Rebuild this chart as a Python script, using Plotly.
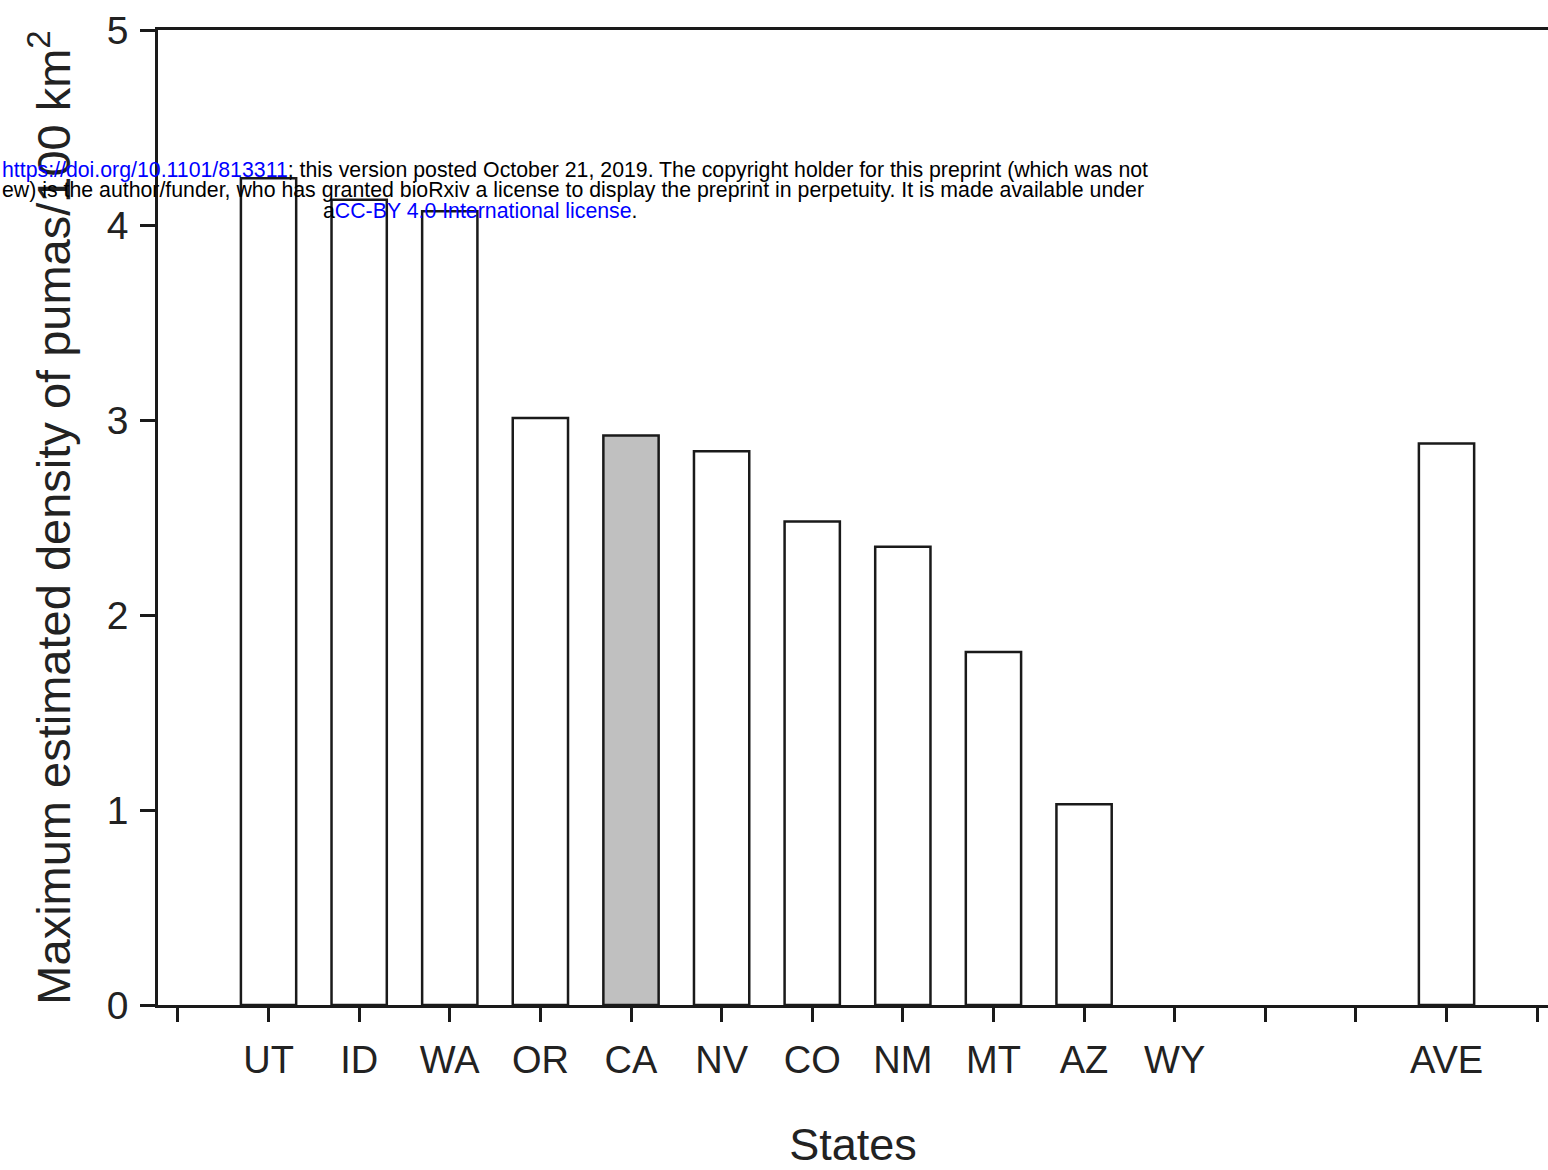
import plotly.graph_objects as go

# ---- data ----
tick_labels = ["", "UT", "ID", "WA", "OR", "CA", "NV", "CO", "NM", "MT", "AZ", "WY", "", "", "AVE", ""]
states = ["UT", "ID", "WA", "OR", "CA", "NV", "CO", "NM", "MT", "AZ", "WY", "AVE"]
density = [4.24, 4.13, 4.07, 3.01, 2.92, 2.84, 2.48, 2.35, 1.81, 1.03, None, 2.88]
highlight = "CA"

y_ticks = [0, 1, 2, 3, 4, 5]

bar_x = [tick_labels.index(s) for s in states]
fills = ["#c0c0c0" if s == highlight else "white" for s in states]

FONT = "Arial, Liberation Sans, Helvetica, sans-serif"
INK = "#1a1a1a"

fig = go.Figure()
fig.add_trace(go.Bar(
    x=bar_x, y=density, width=0.61,
    marker=dict(color=fills, line=dict(color=INK, width=2.5)),
    hoverinfo="skip",
))

W, H = 1548, 1170
L, R, T, B = 158, 0, 30, 165

fig.update_layout(
    width=W, height=H,
    margin=dict(l=L, r=R, t=T, b=B, pad=0),
    paper_bgcolor="white", plot_bgcolor="white",
    showlegend=False,
    font=dict(family=FONT, color="#222222"),
    xaxis=dict(
        range=[-0.22, 15.12],
        tickmode="array", tickvals=list(range(len(tick_labels))), ticktext=tick_labels,
        ticks="outside", ticklen=14, tickwidth=2.5, tickcolor=INK,
        ticklabelstandoff=6,
        showline=True, linecolor=INK, linewidth=2.5, mirror=True,
        showgrid=False, zeroline=False,
        tickfont=dict(size=38, family=FONT, color="#222222"),
        title=dict(text="States", font=dict(size=45, family=FONT, color="#222222"), standoff=50),
    ),
    yaxis=dict(
        range=[0, 5],
        tickmode="array", tickvals=y_ticks,
        ticks="outside", ticklen=15, tickwidth=2.5, tickcolor=INK,
        ticklabelstandoff=4,
        showline=True, linecolor=INK, linewidth=2.5,
        showgrid=False, zeroline=False,
        tickfont=dict(size=39, family=FONT, color="#222222"),
        title=dict(text="Maximum estimated density of pumas/100 km<sup>2</sup>",
                   font=dict(size=47, family=FONT, color="#222222"), standoff=22),
    ),
)

# bioRxiv watermark overlay
plot_w = W - L - R
plot_h = H - T - B
def px(x):
    return (x - L) / plot_w
def py(y):
    return (H - B - y) / plot_h

wm_font = dict(family=FONT, size=21.3, color="black")
lines = [
    (0, 170, "<span style='color:#0000ff'>https://doi.org/10.1101/813311</span>; this version posted October 21, 2019. The copyright holder for this preprint (which was not"),
    (0, 190, "ew) is the author/funder, who has granted bioRxiv a license to display the preprint in perpetuity. It is made available under"),
    (321, 211, "a<span style='color:#0000ff'>CC-BY 4.0 International license</span>."),
]
for x0, yc, txt in lines:
    fig.add_annotation(
        x=px(x0), y=py(yc), xref="paper", yref="paper",
        xanchor="left", yanchor="middle", text=txt, showarrow=False,
        font=wm_font, align="left",
    )

fig.write_html("out.html")
